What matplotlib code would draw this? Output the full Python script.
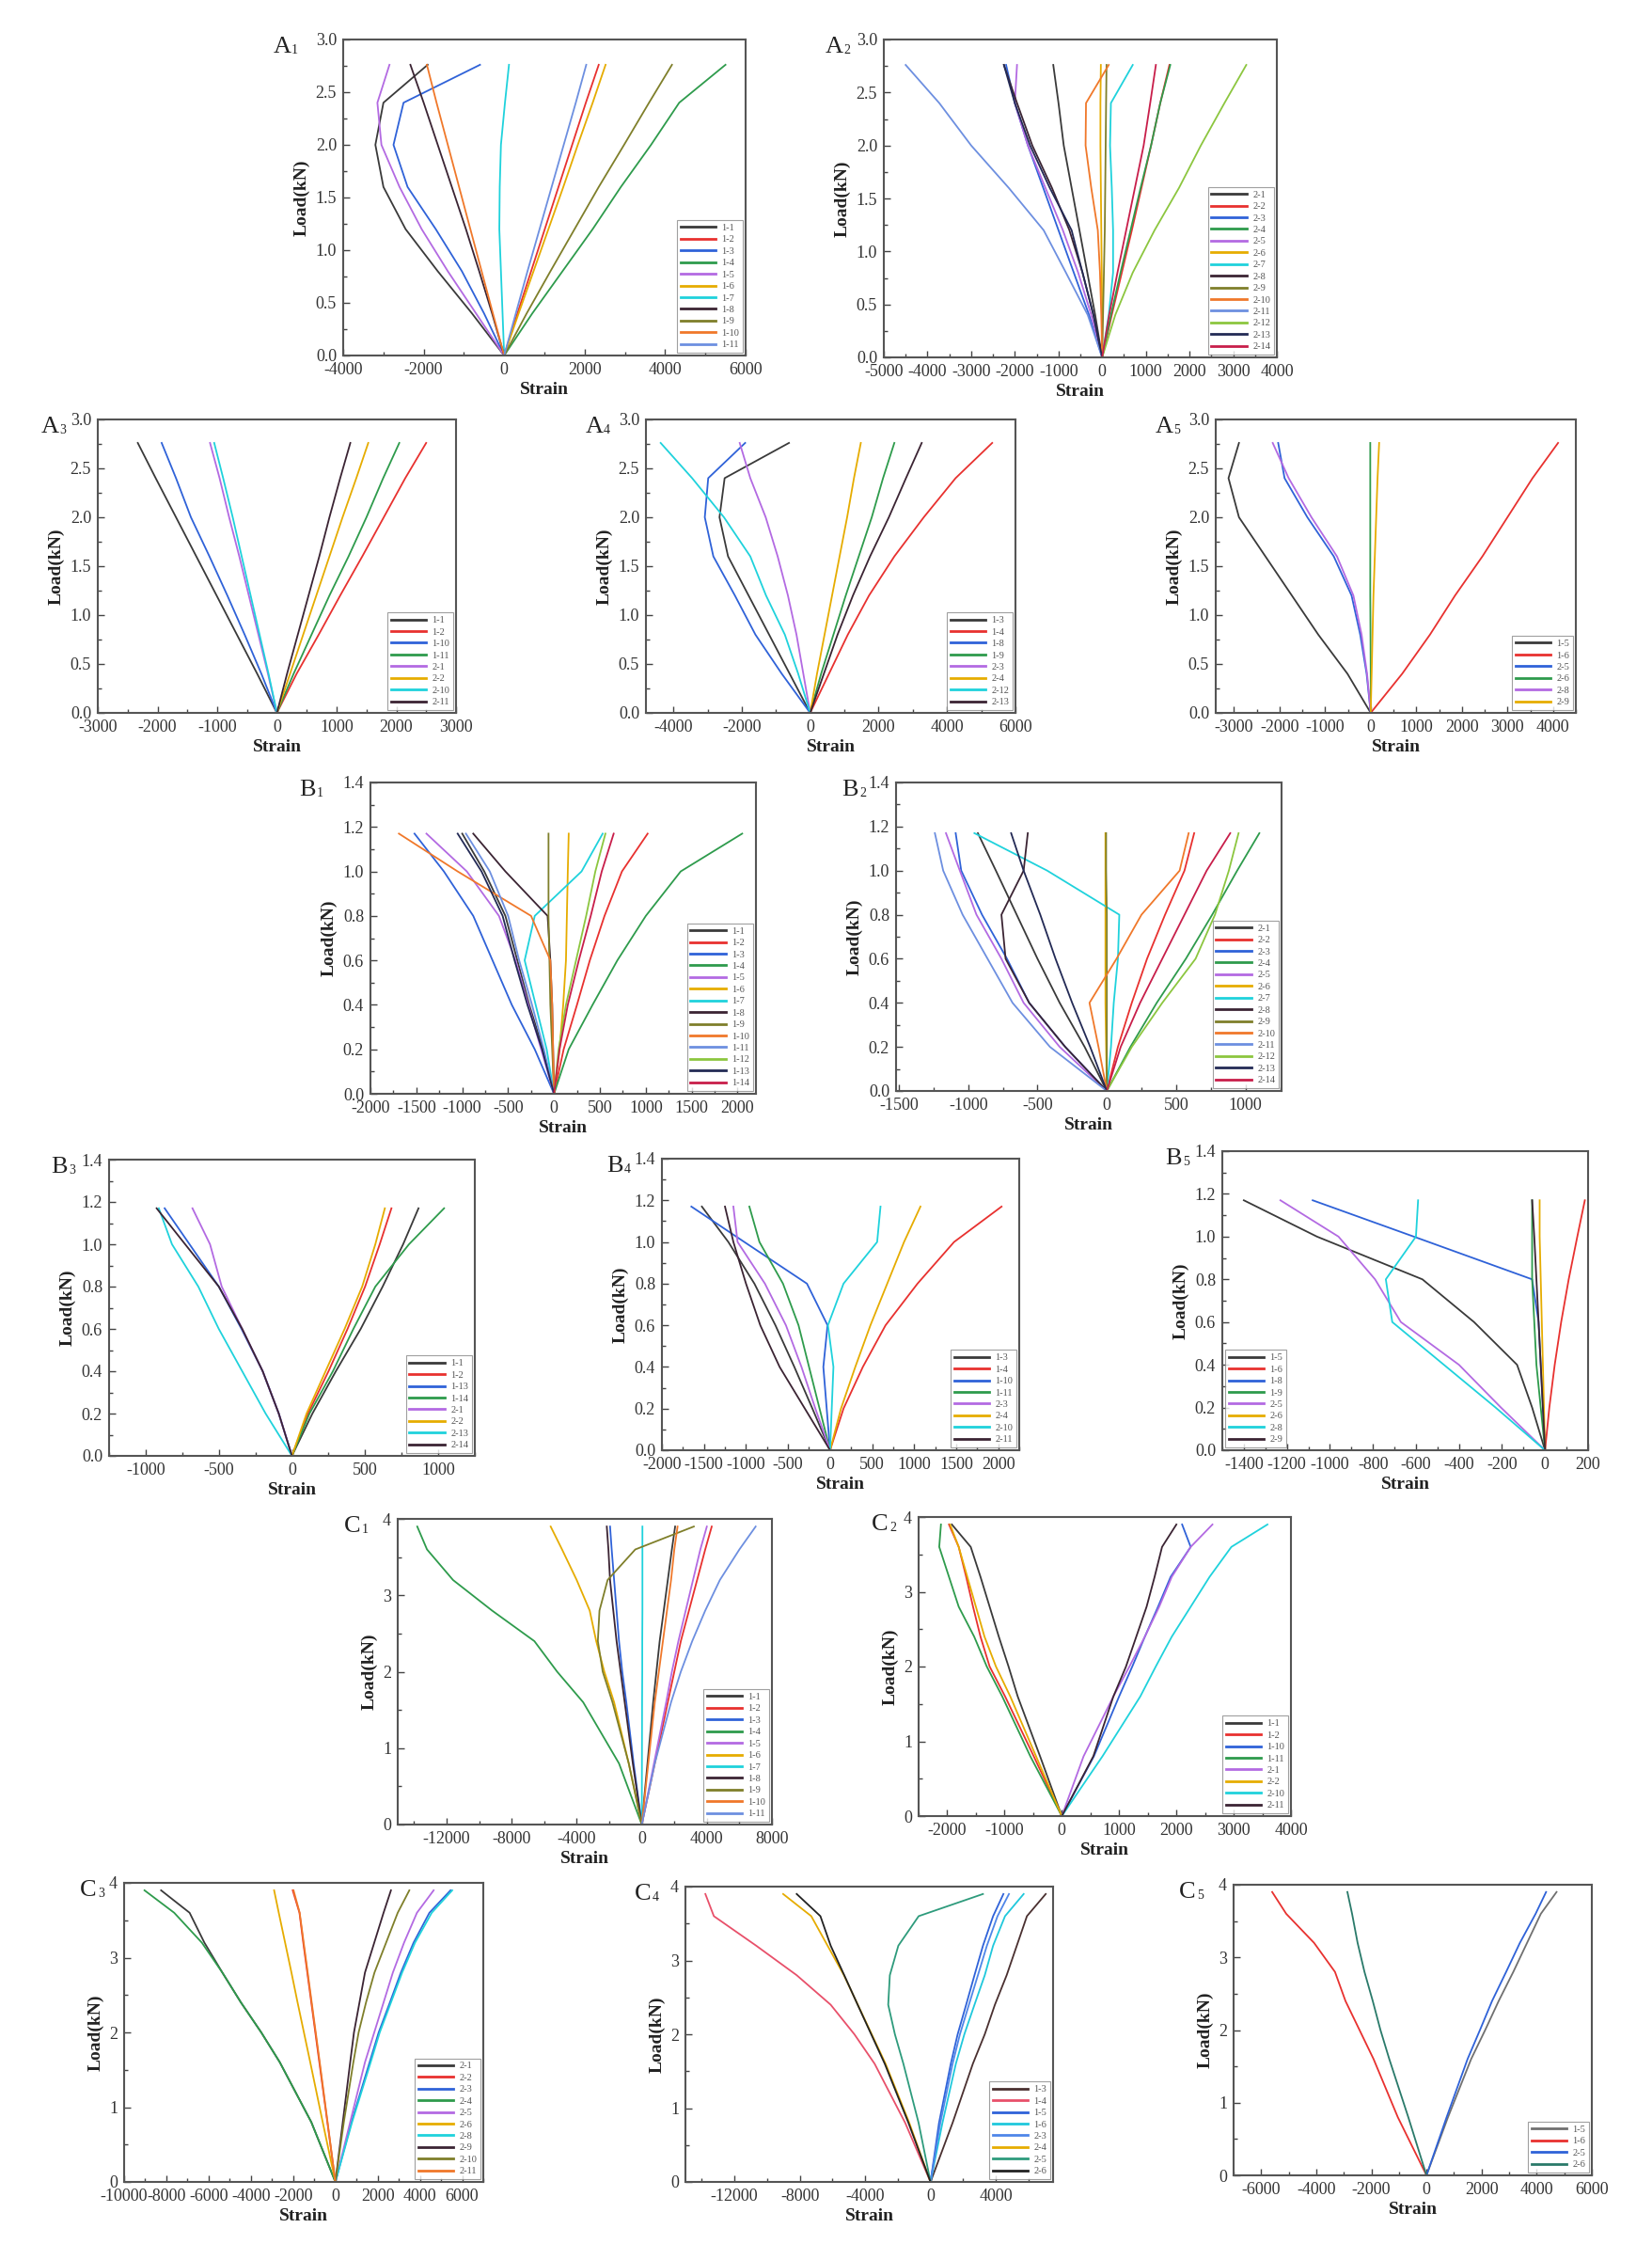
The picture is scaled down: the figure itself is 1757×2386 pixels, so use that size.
import numpy as np
import matplotlib.pyplot as plt
from matplotlib.ticker import MultipleLocator, FormatStrFormatter

plt.rcParams['font.family'] = ['Liberation Serif', 'DejaVu Serif']
plt.rcParams['axes.unicode_minus'] = False

# load steps (kN) for the three specimen groups
load_A = [0, 0.4, 0.8, 1.2, 1.6, 2.0, 2.4, 2.76]
load_B = [0, 0.2, 0.4, 0.6, 0.8, 1.0, 1.17]
load_C = [0, 0.8, 1.6, 2.0, 2.4, 2.8, 3.2, 3.6, 3.9]

A1_labels = ["1-1", "1-2", "1-3", "1-4", "1-5", "1-6", "1-7", "1-8", "1-9", "1-10", "1-11"]
A1_strain = [
    [0, -800, -1650, -2450, -3000, -3200, -3000, -1900],
    [0, 330, 670, 1010, 1350, 1690, 2030, 2350],
    [0, -500, -1050, -1700, -2400, -2750, -2500, -600],
    [0, 700, 1450, 2200, 2900, 3650, 4350, 5500],
    [0, -700, -1400, -2050, -2600, -3050, -3150, -2850],
    [0, 360, 730, 1100, 1470, 1830, 2200, 2520],
    [0, -40, -80, -120, -110, -80, 20, 120],
    [0, -300, -620, -950, -1300, -1650, -2000, -2330],
    [0, 560, 1150, 1750, 2350, 2980, 3600, 4170],
    [0, -280, -560, -840, -1120, -1400, -1680, -1920],
    [0, 290, 580, 880, 1180, 1480, 1780, 2040],
]

A2_labels = ["2-1", "2-2", "2-3", "2-4", "2-5", "2-6", "2-7", "2-8", "2-9", "2-10", "2-11", "2-12", "2-13", "2-14"]
A2_strain = [
    [0, -160, -340, -520, -700, -880, -1000, -1120],
    [0, 220, 450, 680, 900, 1120, 1330, 1540],
    [0, -300, -650, -1000, -1350, -1700, -2000, -2200],
    [0, 200, 420, 650, 880, 1120, 1330, 1560],
    [0, -250, -550, -900, -1300, -1700, -2000, -1950],
    [0, 0, -10, -20, -30, -40, -40, -30],
    [0, 150, 250, 250, 220, 180, 200, 700],
    [0, -200, -450, -750, -1150, -1600, -1950, -2250],
    [0, 20, 40, 60, 70, 80, 90, 100],
    [0, -20, -50, -100, -250, -380, -370, 150],
    [0, -330, -830, -1340, -2140, -3000, -3730, -4500],
    [0, 300, 700, 1200, 1760, 2260, 2800, 3300],
    [0, -200, -450, -700, -1200, -1650, -2000, -2250],
    [0, 160, 350, 550, 750, 950, 1100, 1230],
]

A3_labels = ["1-1", "1-2", "1-10", "1-11", "2-1", "2-2", "2-10", "2-11"]
A3_strain = [
    [0, -330, -670, -1010, -1350, -1690, -2030, -2330],
    [0, 330, 700, 1060, 1430, 1790, 2150, 2500],
    [0, -260, -540, -830, -1130, -1440, -1690, -1930],
    [0, 280, 580, 880, 1200, 1500, 1780, 2050],
    [0, -150, -310, -470, -630, -800, -960, -1120],
    [0, 220, 440, 660, 880, 1100, 1330, 1530],
    [0, -140, -290, -440, -590, -740, -900, -1050],
    [0, 170, 350, 530, 710, 880, 1060, 1230],
]

A4_labels = ["1-3", "1-4", "1-8", "1-9", "2-3", "2-4", "2-12", "2-13"]
A4_strain = [
    [0, -600, -1200, -1800, -2400, -2650, -2500, -620],
    [0, 550, 1100, 1720, 2460, 3320, 4250, 5320],
    [0, -830, -1600, -2200, -2830, -3080, -2980, -1900],
    [0, 320, 680, 1040, 1420, 1800, 2130, 2460],
    [0, -200, -400, -650, -950, -1300, -1750, -2060],
    [0, 200, 420, 640, 860, 1080, 1280, 1480],
    [0, -350, -740, -1290, -1750, -2520, -3450, -4370],
    [0, 400, 800, 1250, 1750, 2300, 2800, 3260],
]

A5_labels = ["1-5", "1-6", "2-5", "2-6", "2-8", "2-9"]
A5_strain = [
    [0, -510, -1150, -1730, -2310, -2890, -3120, -2890],
    [0, 690, 1300, 1850, 2450, 3000, 3550, 4110],
    [0, -90, -230, -420, -810, -1390, -1890, -2030],
    [0, 0, -5, -10, -10, -10, -10, -10],
    [0, -80, -200, -380, -740, -1300, -1800, -2150],
    [0, 20, 40, 60, 90, 120, 150, 185],
]

B1_labels = ["1-1", "1-2", "1-3", "1-4", "1-5", "1-6", "1-7", "1-8", "1-9", "1-10", "1-11", "1-12", "1-13", "1-14"]
B1_strain = [
    [0, -120, -270, -400, -530, -760, -1000],
    [0, 105, 250, 390, 550, 740, 1020],
    [0, -210, -460, -670, -880, -1200, -1520],
    [0, 160, 420, 690, 1000, 1380, 2050],
    [0, -140, -280, -420, -600, -950, -1390],
    [0, 60, 100, 130, 140, 150, 160],
    [0, -80, -200, -320, -210, 300, 530],
    [0, -10, -20, -40, -70, -530, -880],
    [0, -20, -40, -50, -60, -60, -60],
    [0, -10, -20, -40, -250, -1050, -1690],
    [0, -110, -240, -380, -500, -700, -960],
    [0, 50, 130, 240, 350, 450, 560],
    [0, -130, -290, -430, -560, -790, -1050],
    [0, 60, 150, 270, 400, 520, 650],
]

B2_labels = ["2-1", "2-2", "2-3", "2-4", "2-5", "2-6", "2-7", "2-8", "2-9", "2-10", "2-11", "2-12", "2-13", "2-14"]
B2_strain = [
    [0, -160, -340, -500, -650, -800, -930],
    [0, 80, 180, 290, 420, 560, 630],
    [0, -300, -560, -720, -900, -1050, -1090],
    [0, 170, 360, 570, 760, 940, 1100],
    [0, -340, -600, -760, -940, -1060, -1160],
    [0, -5, -10, -10, -10, -10, -10],
    [0, 30, 50, 80, 90, -430, -955],
    [0, -300, -560, -730, -760, -600, -570],
    [0, 0, 0, 0, 0, -5, -5],
    [0, -60, -125, 70, 250, 525, 590],
    [0, -410, -680, -860, -1040, -1180, -1240],
    [0, 180, 400, 640, 780, 880, 950],
    [0, -120, -250, -370, -480, -600, -690],
    [0, 100, 240, 400, 560, 720, 890],
]

B3_labels = ["1-1", "1-2", "1-13", "1-14", "2-1", "2-2", "2-13", "2-14"]
B3_strain = [
    [0, 140, 300, 470, 620, 760, 865],
    [0, 110, 250, 380, 500, 600, 680],
    [0, -90, -200, -345, -500, -700, -870],
    [0, 120, 280, 420, 570, 800, 1040],
    [0, -90, -200, -340, -480, -560, -680],
    [0, 100, 230, 360, 480, 570, 635],
    [0, -180, -340, -500, -640, -820, -910],
    [0, -90, -200, -340, -500, -730, -925],
]

B4_labels = ["1-3", "1-4", "1-10", "1-11", "2-3", "2-4", "2-10", "2-11"]
B4_strain = [
    [0, -210, -425, -650, -900, -1210, -1525],
    [0, 160, 390, 660, 1040, 1475, 2040],
    [0, -40, -80, -30, -275, -1020, -1650],
    [0, -125, -250, -375, -560, -840, -960],
    [0, -175, -340, -525, -775, -1100, -1150],
    [0, 130, 300, 480, 680, 880, 1075],
    [0, 20, 40, -25, 160, 560, 600],
    [0, -300, -600, -830, -1000, -1150, -1250],
]

B5_labels = ["1-5", "1-6", "1-8", "1-9", "2-5", "2-6", "2-8", "2-9"]
B5_strain = [
    [0, -60, -130, -330, -570, -1060, -1400],
    [0, 20, 45, 75, 110, 150, 185],
    [0, -10, -20, -30, -60, -610, -1080],
    [0, -20, -40, -50, -60, -60, -60],
    [0, -205, -400, -670, -790, -960, -1230],
    [0, -5, -10, -15, -20, -25, -25],
    [0, -230, -470, -710, -740, -600, -590],
    [0, -10, -20, -30, -40, -50, -60],
]

C1_labels = ["1-1", "1-2", "1-3", "1-4", "1-5", "1-6", "1-7", "1-8", "1-9", "1-10", "1-11"]
C1_strain = [
    [0, 350, 700, 900, 1100, 1350, 1600, 1850, 2050],
    [0, 800, 1600, 2000, 2400, 2900, 3400, 3900, 4300],
    [0, -500, -950, -1200, -1400, -1550, -1700, -1850, -1950],
    [0, -1400, -3600, -5200, -6600, -9200, -11600, -13200, -13800],
    [0, 750, 1500, 1850, 2250, 2700, 3150, 3600, 4000],
    [0, -800, -1700, -2300, -2800, -3200, -4000, -4900, -5600],
    [0, 10, 20, 30, 30, 40, 40, 40, 40],
    [0, -550, -1050, -1300, -1550, -1750, -1950, -2050, -2150],
    [0, -800, -1800, -2400, -2700, -2600, -2100, -400, 3200],
    [0, 400, 800, 1050, 1300, 1550, 1800, 2000, 2200],
    [0, 800, 1800, 2400, 3100, 3900, 4800, 6000, 7000],
]

C2_labels = ["1-1", "1-2", "1-10", "1-11", "2-1", "2-2", "2-10", "2-11"]
C2_strain = [
    [0, -380, -770, -930, -1100, -1260, -1420, -1590, -1920],
    [0, -490, -990, -1260, -1420, -1550, -1670, -1800, -1970],
    [0, 560, 1000, 1230, 1450, 1680, 1900, 2250, 2100],
    [0, -550, -1040, -1310, -1530, -1800, -1970, -2140, -2110],
    [0, 380, 900, 1180, 1450, 1700, 1920, 2250, 2630],
    [0, -450, -900, -1150, -1350, -1500, -1650, -1800, -1950],
    [0, 710, 1370, 1640, 1920, 2250, 2580, 2960, 3590],
    [0, 550, 900, 1120, 1300, 1480, 1620, 1750, 2000],
]

C3_labels = ["2-1", "2-2", "2-3", "2-4", "2-5", "2-6", "2-8", "2-9", "2-10", "2-11"]
C3_strain = [
    [0, -1140, -2630, -3510, -4470, -5350, -6200, -6900, -8250],
    [0, -380, -760, -950, -1140, -1330, -1520, -1700, -2020],
    [0, 760, 1620, 2050, 2580, 3100, 3700, 4450, 5450],
    [0, -1140, -2630, -3510, -4470, -5350, -6320, -7630, -9035],
    [0, 700, 1400, 1840, 2280, 2720, 3250, 3860, 4650],
    [0, -600, -1190, -1490, -1790, -2080, -2380, -2680, -2900],
    [0, 790, 1670, 2100, 2630, 3160, 3770, 4560, 5530],
    [0, 350, 700, 880, 1140, 1400, 1840, 2280, 2630],
    [0, 400, 850, 1100, 1450, 1850, 2400, 2950, 3500],
    [0, -370, -740, -930, -1120, -1310, -1500, -1690, -1980],
]

C4_labels = ["1-3", "1-4", "1-5", "1-6", "2-3", "2-4", "2-5", "2-6"]
C4_strain = [
    [0, 1350, 2590, 3320, 3940, 4660, 5280, 5900, 7050],
    [0, -1550, -3420, -4660, -6110, -8190, -10670, -13260, -13780],
    [0, 520, 1240, 1660, 2180, 2690, 3210, 3830, 4460],
    [0, 730, 1550, 2070, 2690, 3320, 3830, 4560, 5700],
    [0, 600, 1350, 1800, 2350, 2900, 3450, 4100, 4800],
    [0, -1300, -2750, -3600, -4450, -5300, -6300, -7300, -9020],
    [0, -730, -1660, -2180, -2590, -2490, -1970, -725, 3210],
    [0, -1350, -2800, -3630, -4460, -5280, -6110, -6740, -8190],
]

C5_labels = ["1-5", "1-6", "2-5", "2-6"]
C5_strain = [
    [0, 780, 1620, 2130, 2620, 3150, 3650, 4150, 4720],
    [0, -1040, -1920, -2430, -2940, -3320, -4080, -5090, -5600],
    [0, 730, 1490, 1940, 2380, 2890, 3390, 3960, 4340],
    [0, -660, -1350, -1670, -1950, -2250, -2500, -2700, -2870],
]

palette = ['#3a3a3a', '#e8312f', '#2f62d8', '#2e9b4c', '#b36ae2', '#e6ac00', '#1fd2dc',
           '#3b2433', '#7f7f2a', '#f0782a', '#6d8fe0', '#8cc63f', '#232a55', '#c81e4a']
C4_colors = ['#4a3030', '#e8506a', '#2f62d8', '#1fc8dc', '#4f86e8', '#e6ac00', '#2e9b7c', '#222222']
C5_colors = ['#707070', '#e8312f', '#2f62d8', '#2a7a6a']

W, H = 1758, 2386
fig = plt.figure(figsize=(W / 100, H / 100), dpi=100)

group_y = {
    "A": (load_A, (0, 3.0), 0.5, 0.25, '%.1f'),
    "B": (load_B, (0, 1.4), 0.2, 0.1, '%.1f'),
    "C": (load_C, (0, 4), 1, 0.5, '%d'),
}

# letter, subscript, labels, strains, xlim, x step, box(l, r, t, b) px, label offset, legend loc, colors
panels = [
    ("A", "1", A1_labels, A1_strain, (-4000, 6000), 2000, (365, 793, 42, 378), 74, "lower right", palette),
    ("A", "2", A2_labels, A2_strain, (-5000, 4000), 1000, (940, 1358, 42, 380), 62, "lower right", palette),
    ("A", "3", A3_labels, A3_strain, (-3000, 3000), 1000, (104, 485, 446, 758), 60, "lower right", palette),
    ("A", "4", A4_labels, A4_strain, (-4800, 6000), 2000, (687, 1080, 446, 758), 64, "lower right", palette),
    ("A", "5", A5_labels, A5_strain, (-3400, 4500), 1000, (1293, 1676, 446, 758), 64, "lower right", palette),
    ("B", "1", B1_labels, B1_strain, (-2000, 2200), 500, (394, 804, 832, 1163), 76, "lower right", palette),
    ("B", "2", B2_labels, B2_strain, (-1520, 1260), 500, (953, 1363, 832, 1160), 58, "lower right", palette),
    ("B", "3", B3_labels, B3_strain, (-1250, 1250), 500, (116, 505, 1233, 1548), 62, "lower right", palette),
    ("B", "4", B4_labels, B4_strain, (-2000, 2250), 500, (704, 1084, 1232, 1542), 59, "lower right", palette),
    ("B", "5", B5_labels, B5_strain, (-1500, 200), 200, (1300, 1689, 1224, 1542), 61, "lower left", palette),
    ("C", "1", C1_labels, C1_strain, (-15000, 8000), 4000, (423, 821, 1615, 1940), 57, "lower right", palette),
    ("C", "2", C2_labels, C2_strain, (-2500, 4000), 1000, (977, 1373, 1613, 1931), 50, "lower right", palette),
    ("C", "3", C3_labels, C3_strain, (-10000, 7000), 2000, (132, 514, 2002, 2320), 47, "lower right", palette),
    ("C", "4", C4_labels, C4_strain, (-15000, 7500), 4000, (729, 1120, 2006, 2320), 54, "lower right", C4_colors),
    ("C", "5", C5_labels, C5_strain, (-7000, 6000), 2000, (1312, 1693, 2004, 2313), 58, "lower right", C5_colors),
]

for letter, sub, labels, strains, xlim, xstep, box, off, loc, cols in panels:
    loads, ylim, ymaj, ymin, yfmt = group_y[letter]
    l, r, t, b = box
    ax = fig.add_axes([l / W, 1 - b / H, (r - l) / W, (b - t) / H])
    for i, (lab, s) in enumerate(zip(labels, strains)):
        ax.plot(s, loads, color=cols[i % len(cols)], lw=1.3, label=lab)
    ax.set_xlim(*xlim)
    ax.set_ylim(*ylim)
    ax.xaxis.set_major_locator(MultipleLocator(xstep))
    ax.xaxis.set_minor_locator(MultipleLocator(xstep / 2))
    ax.yaxis.set_major_locator(MultipleLocator(ymaj))
    ax.yaxis.set_minor_locator(MultipleLocator(ymin))
    ax.yaxis.set_major_formatter(FormatStrFormatter(yfmt))
    ax.tick_params(which='both', direction='in', top=False, right=False,
                   colors='#444444', labelcolor='#333333', labelsize=13, width=1.0, pad=5)
    ax.tick_params(which='major', length=5)
    ax.tick_params(which='minor', length=3)
    for sp in ax.spines.values():
        sp.set_linewidth(1.5)
        sp.set_color('#555555')
    ax.set_xlabel('Strain', fontsize=14, fontweight='bold', labelpad=3, color='#222222')
    ax.set_ylabel('Load(kN)', fontsize=14, fontweight='bold', labelpad=4, color='#222222')
    leg = ax.legend(loc=loc, fontsize=7.5, frameon=True, fancybox=False, handlelength=3.6,
                    handletextpad=0.6, borderpad=0.35, labelspacing=0.3, borderaxespad=0.3)
    leg.get_frame().set_edgecolor('#888888')
    leg.get_frame().set_linewidth(0.8)
    for line in leg.get_lines():
        line.set_linewidth(2.0)
    for txt in leg.get_texts():
        txt.set_color('#555555')

    xl = (l - off) / W
    yl = 1 - (t + 14) / H
    fig.text(xl, yl, letter, fontsize=19, ha='left', va='baseline', color='#222222')
    fig.text(xl + 19 / W, yl - 1 / H, sub, fontsize=10, ha='left', va='baseline', color='#222222')

fig.savefig('out.png', dpi=100, facecolor='white')
